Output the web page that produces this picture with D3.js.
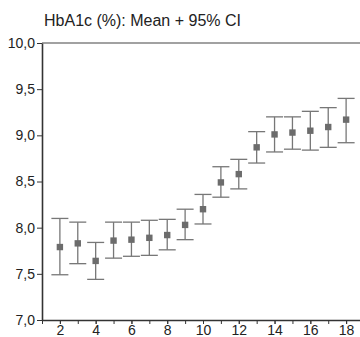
<!DOCTYPE html>
<html>
<head>
<meta charset="utf-8">
<script src="https://cdn.jsdelivr.net/npm/d3@7"></script>
<style>
  body { margin: 0; background: #fff; }
  svg { display: block; font-family: "Liberation Sans", Arial, sans-serif; }
  .axis text { fill: #222; font-size: 14px; }
</style>
</head>
<body>
<script>

// age groups on the x axis
var groups = [2, 3, 4, 5, 6, 7, 8, 9, 10, 11, 12, 13, 14, 15, 16, 17, 18];

// HbA1c mean and 95% CI bounds per group
var means = [7.79, 7.83, 7.64, 7.86, 7.87, 7.89, 7.92, 8.03, 8.20, 8.49, 8.58, 8.87, 9.01, 9.03, 9.05, 9.09, 9.17];
var lower = [7.49, 7.61, 7.44, 7.67, 7.69, 7.70, 7.76, 7.87, 8.04, 8.33, 8.42, 8.70, 8.82, 8.85, 8.84, 8.87, 8.92];
var upper = [8.10, 8.06, 7.84, 8.06, 8.06, 8.08, 8.09, 8.20, 8.36, 8.66, 8.74, 9.04, 9.20, 9.20, 9.26, 9.30, 9.40];

// axis ticks
var yTicks = [7.0, 7.5, 8.0, 8.5, 9.0, 9.5, 10.0];
var xTicks = [2, 4, 6, 8, 10, 12, 14, 16, 18];
var xMinorTicks = [1, 2, 3, 4, 5, 6, 7, 8, 9, 10, 11, 12, 13, 14, 15, 16, 17, 18, 19];

var title = "HbA1c (%): Mean + 95% CI";

window.onload = function() { drawChart(); };

function drawChart() {

  var w = 360,
      h = 337;

  var dataset = groups.map(function(g, i) {
    return {x: g, mean: means[i], lo: lower[i], hi: upper[i]};
  });

  var svg = d3.select("body")
              .append("svg")
              .attr("width", w)
              .attr("height", h);

  // scales
  var xScale = d3.scaleLinear()
                 .domain([1, 19])
                 .range([42, 364]);

  var yScale = d3.scaleLinear()
                 .domain([7, 10])
                 .range([320, 43]);

  var commaFormat = function(d) { return d3.format(".1f")(d).replace(".", ","); };

  // title
  svg.append("text")
     .attr("x", 44)
     .attr("y", 26)
     .style("font-size", "16px")
     .style("fill", "#222")
     .text(title);

  // top frame line
  svg.append("line")
     .attr("x1", xScale(1))
     .attr("x2", w)
     .attr("y1", yScale(10))
     .attr("y2", yScale(10))
     .attr("stroke", "#444")
     .attr("stroke-width", 1.2);

  // minor x ticks
  svg.append("g")
     .attr("class", "x minor")
     .attr("transform", "translate(0," + yScale(7) + ")")
     .call(d3.axisBottom(xScale).tickValues(xMinorTicks).tickSize(4).tickFormat(""))
     .call(function(g) { g.select(".domain").remove(); })
     .selectAll("line").attr("stroke", "#333");

  // x axis
  var xAxis = svg.append("g")
     .attr("class", "x axis")
     .attr("transform", "translate(0," + yScale(7) + ")")
     .call(d3.axisBottom(xScale).tickValues(xTicks).tickSize(4).tickSizeOuter(0).tickPadding(1));
  xAxis.select(".domain").attr("stroke", "#333").attr("stroke-width", 1.5);
  xAxis.selectAll(".tick line").attr("stroke", "#333");

  // y axis
  var yAxis = svg.append("g")
     .attr("class", "y axis")
     .attr("transform", "translate(" + xScale(1) + ",0)")
     .call(d3.axisLeft(yScale).tickValues(yTicks).tickSize(5).tickSizeOuter(0).tickPadding(2).tickFormat(commaFormat));
  yAxis.select(".domain").attr("stroke", "#333").attr("stroke-width", 1.6);
  yAxis.selectAll(".tick line").attr("stroke", "#333");

  // error bars
  var bars = svg.selectAll(".bar")
     .data(dataset)
     .enter().append("g")
     .attr("class", "bar");

  var capW = 8.5;

  bars.append("line")
      .attr("x1", function(d) { return xScale(d.x); })
      .attr("x2", function(d) { return xScale(d.x); })
      .attr("y1", function(d) { return yScale(d.lo); })
      .attr("y2", function(d) { return yScale(d.hi); })
      .attr("stroke", "#777")
      .attr("stroke-width", 1.3);

  bars.append("line")
      .attr("x1", function(d) { return xScale(d.x) - capW; })
      .attr("x2", function(d) { return xScale(d.x) + capW; })
      .attr("y1", function(d) { return yScale(d.hi); })
      .attr("y2", function(d) { return yScale(d.hi); })
      .attr("stroke", "#777")
      .attr("stroke-width", 1.3);

  bars.append("line")
      .attr("x1", function(d) { return xScale(d.x) - capW; })
      .attr("x2", function(d) { return xScale(d.x) + capW; })
      .attr("y1", function(d) { return yScale(d.lo); })
      .attr("y2", function(d) { return yScale(d.lo); })
      .attr("stroke", "#777")
      .attr("stroke-width", 1.3);

  // mean markers
  bars.append("rect")
      .attr("x", function(d) { return xScale(d.x) - 3.2; })
      .attr("y", function(d) { return yScale(d.mean) - 3.2; })
      .attr("width", 6.4)
      .attr("height", 6.4)
      .attr("fill", "#6c6c6c");
}
</script>
</body>
</html>
